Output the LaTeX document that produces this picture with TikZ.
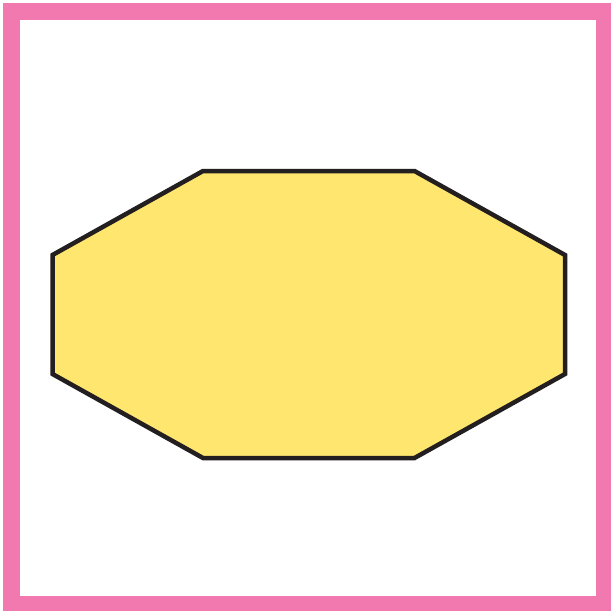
\documentclass[tikz,border=0pt]{standalone}
\definecolor{framepink}{HTML}{F279B0}
\definecolor{octyellow}{HTML}{FFE66E}
\definecolor{octline}{HTML}{231F20}
\begin{document}
\begin{tikzpicture}[x=1pt,y=-1pt,
  framestyle/.style={draw=framepink,line width=16.5pt},
  octstyle/.style={draw=octline,fill=octyellow,line width=4.5pt,line join=miter}]
\useasboundingbox (0,0) rectangle (611,611);
\fill[white] (0,0) rectangle (611,611);
\draw[framestyle] (11.5,11.5) rectangle (604,604);
\draw[octstyle] (52.5,255) -- (52.5,374) -- (203,458) -- (414.5,458) -- (565,374) -- (565,255) -- (414.5,171) -- (203,171) -- cycle;
\end{tikzpicture}
\end{document}
